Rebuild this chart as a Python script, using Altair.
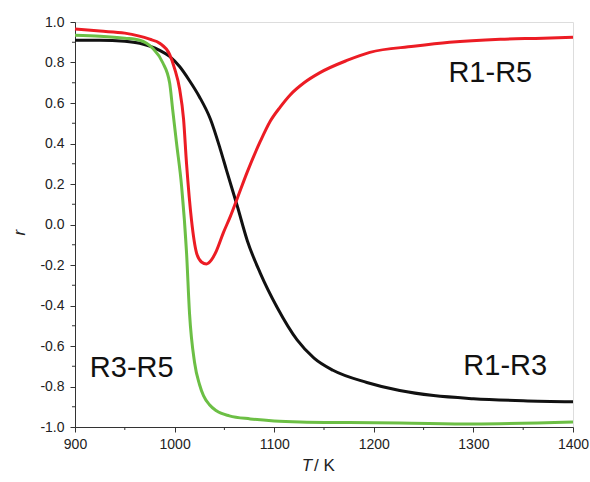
import altair as alt
import pandas as pd

# ---- data ----
black_T = [900, 925, 950, 965, 985, 995, 1005, 1015, 1025, 1036, 1046, 1052, 1063, 1073, 1086,
           1103, 1123, 1140, 1159, 1193, 1226, 1260, 1300, 1350, 1400]
black_r = [0.91, 0.91, 0.905, 0.895, 0.86, 0.83, 0.78, 0.71, 0.63, 0.52, 0.37, 0.27, 0.09, -0.08, -0.24,
           -0.41, -0.57, -0.66, -0.72, -0.78, -0.82, -0.845, -0.86, -0.87, -0.875]

red_T = [900, 925, 950, 975, 985, 995, 1000, 1005, 1009, 1012, 1017, 1022, 1027, 1032, 1037,
         1042, 1049, 1056, 1063, 1073, 1086, 1096, 1106, 1116, 1130, 1146, 1173, 1196, 1240, 1276, 1327, 1370, 1400]
red_r = [0.965, 0.955, 0.945, 0.915, 0.895, 0.84, 0.77, 0.67, 0.52, 0.30, 0.02, -0.14, -0.185, -0.195, -0.175,
         -0.13, -0.04, 0.04, 0.13, 0.26, 0.41, 0.51, 0.58, 0.64, 0.70, 0.75, 0.81, 0.85, 0.88, 0.90, 0.915, 0.92, 0.925]

green_T = [900, 925, 950, 965, 978, 988, 995, 998, 1002, 1007, 1012, 1015, 1020, 1025, 1029,
           1035, 1042, 1055, 1076, 1100, 1126, 1175, 1226, 1300, 1400]
green_r = [0.935, 0.93, 0.92, 0.91, 0.87, 0.80, 0.70, 0.57, 0.40, 0.19, -0.14, -0.44, -0.68, -0.79, -0.845,
           -0.89, -0.92, -0.945, -0.96, -0.97, -0.975, -0.978, -0.98, -0.985, -0.975]

series_names = ["R1-R3", "R3-R5", "R1-R5"]
series_colors = ["#111111", "#6cbf45", "#ec1c24"]

x_major = [900, 1000, 1100, 1200, 1300, 1400]
x_minor = [950, 1050, 1150, 1250, 1350]
y_major = [-1.0, -0.8, -0.6, -0.4, -0.2, 0.0, 0.2, 0.4, 0.6, 0.8, 1.0]
y_minor = [-0.9, -0.7, -0.5, -0.3, -0.1, 0.1, 0.3, 0.5, 0.7, 0.9]

label_text = ["R1-R5", "R1-R3", "R3-R5"]
label_T = [1317, 1332, 957]
label_r = [0.75, -0.70, -0.71]

rows = []
for name, Ts, rs in zip(series_names, [black_T, green_T, red_T], [black_r, green_r, red_r]):
    for t, r in zip(Ts, rs):
        rows.append({"T": t, "r": r, "series": name})
df = pd.DataFrame(rows)

x_scale = alt.Scale(domain=[900, 1400], nice=False, zero=False)
y_scale = alt.Scale(domain=[-1, 1], nice=False, zero=False)

x_axis = alt.Axis(values=x_major, title=None, format="d", tickSize=5, labelPadding=5,
                  grid=False, labelFontSize=14, labelColor="#222", domainColor="#333",
                  tickColor="#333", labelFont="Liberation Sans", labelFlush=False)
y_axis = alt.Axis(values=y_major, title=None, tickSize=5, labelPadding=6, grid=False,
                  labelExpr="replace(format(datum.value, '.1f'), '\u2212', '-')",
                  labelFontSize=14, labelColor="#222", domainColor="#333",
                  tickColor="#333", labelFont="Liberation Sans")

lines = alt.Chart(df).mark_line(strokeWidth=3, interpolate="monotone").encode(
    x=alt.X("T:Q", scale=x_scale, axis=x_axis),
    y=alt.Y("r:Q", scale=y_scale, axis=y_axis),
    color=alt.Color("series:N", scale=alt.Scale(domain=series_names, range=series_colors), legend=None),
    detail="series:N",
)

xminor = alt.Chart(pd.DataFrame({"T": x_minor})).mark_rule(color="#333", strokeWidth=1).encode(
    x=alt.X("T:Q", scale=x_scale, axis=x_axis),
    y=alt.value(405), y2=alt.value(408),
)
yminor = alt.Chart(pd.DataFrame({"r": y_minor})).mark_rule(color="#333", strokeWidth=1).encode(
    y=alt.Y("r:Q", scale=y_scale, axis=y_axis),
    x=alt.value(0), x2=alt.value(-3),
)

labels = alt.Chart(pd.DataFrame({"text": label_text, "T": label_T, "r": label_r})).mark_text(
    fontSize=29, font="Liberation Sans", color="#111", align="center", baseline="middle"
).encode(
    x=alt.X("T:Q", scale=x_scale, axis=x_axis),
    y=alt.Y("r:Q", scale=y_scale, axis=y_axis),
    text="text:N",
)

xt1 = alt.Chart(pd.DataFrame({"T": [1138], "r": [-1.195], "s": ["T"]})).mark_text(
    fontSize=17, font="Liberation Sans", fontStyle="italic", color="#222", align="right", baseline="middle"
).encode(x=alt.X("T:Q", scale=x_scale, axis=x_axis), y=alt.Y("r:Q", scale=y_scale, axis=y_axis), text="s:N")
xt2 = alt.Chart(pd.DataFrame({"T": [1140], "r": [-1.195], "s": ["/ K"]})).mark_text(
    fontSize=17, font="Liberation Sans", color="#222", align="left", baseline="middle"
).encode(x=alt.X("T:Q", scale=x_scale, axis=x_axis), y=alt.Y("r:Q", scale=y_scale, axis=y_axis), text="s:N")
yt = alt.Chart(pd.DataFrame({"T": [845], "r": [-0.04], "s": ["r"]})).mark_text(
    fontSize=17, font="Liberation Sans", fontStyle="italic", color="#222", align="center",
    baseline="middle", angle=270
).encode(x=alt.X("T:Q", scale=x_scale, axis=x_axis), y=alt.Y("r:Q", scale=y_scale, axis=y_axis), text="s:N")

chart = alt.layer(xminor, yminor, lines, labels, xt1, xt2, yt).properties(
    width=498, height=405,
    autosize=alt.AutoSizeParams(type="none"),
    padding={"left": 75, "top": 22, "right": 17, "bottom": 55},
).configure_view(stroke="#555", strokeWidth=1).configure(background="white")

chart.save("out.html", embed_options={"renderer": "svg", "actions": False})
